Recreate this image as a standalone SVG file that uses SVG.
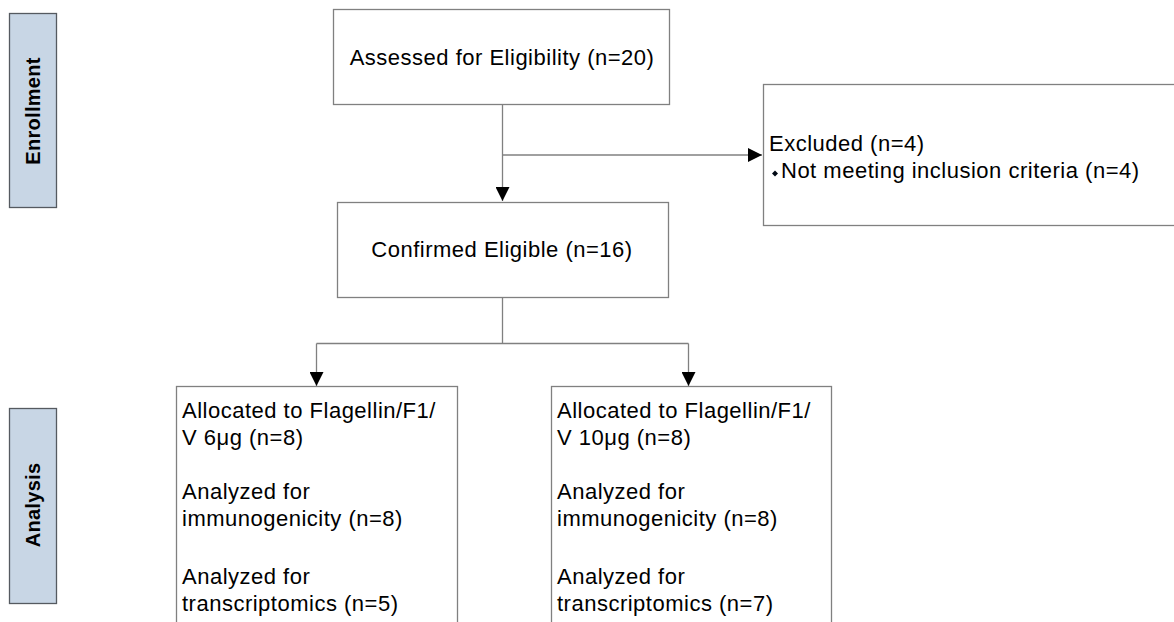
<svg xmlns="http://www.w3.org/2000/svg" width="1174" height="622" viewBox="0 0 1174 622">
  <style>
    .box { fill: #ffffff; stroke: #808080; stroke-width: 1.3; }
    .band { fill: #c8d6e5; stroke: #555a60; stroke-width: 1.3; }
    .lbl { font-family: "Liberation Sans", Arial, sans-serif; font-size: 22px; letter-spacing: 0.5px; fill: #000000; }
    .mid { text-anchor: middle; }
    .band-lbl { font-family: "Liberation Sans", Arial, sans-serif; font-size: 20px; font-weight: bold; letter-spacing: 0.3px; fill: #000000; text-anchor: middle; }
    .wire { fill: none; stroke: #808080; stroke-width: 1.3; }
  </style>
  <defs>
    <marker id="arrow" viewBox="0 0 14 14" refX="14" refY="7" markerWidth="14" markerHeight="14" markerUnits="userSpaceOnUse" orient="auto">
      <path d="M0,0 L14,7 L0,14 Z" fill="#000000"/>
    </marker>
  </defs>
  <rect width="1174" height="622" fill="#ffffff"/>

  <!-- stage bands -->
  <g id="band-enrollment">
    <rect class="band" x="9.5" y="13.5" width="47" height="194"/>
    <text class="band-lbl" transform="translate(40,111) rotate(-90)">Enrollment</text>
  </g>
  <g id="band-analysis">
    <rect class="band" x="9.5" y="408.5" width="47" height="195"/>
    <text class="band-lbl" transform="translate(40,505) rotate(-90)">Analysis</text>
  </g>

  <!-- connectors -->
  <g id="connectors">
    <line class="wire" x1="502.5" y1="104" x2="502.5" y2="201" marker-end="url(#arrow)"/>
    <line class="wire" x1="502.5" y1="155" x2="762" y2="155" marker-end="url(#arrow)"/>
    <polyline class="wire" points="502.5,297 502.5,343.5"/>
    <polyline class="wire" points="316.5,343.5 688.5,343.5"/>
    <line class="wire" x1="316.5" y1="343.5" x2="316.5" y2="386" marker-end="url(#arrow)"/>
    <line class="wire" x1="688.5" y1="343.5" x2="688.5" y2="386" marker-end="url(#arrow)"/>
  </g>

  <!-- nodes -->
  <g id="node-assessed">
    <rect class="box" x="333.5" y="9.5" width="336" height="95"/>
    <text class="lbl mid" x="502" y="65">Assessed for Eligibility (n=20)</text>
  </g>
  <g id="node-excluded">
    <rect class="box" x="763.5" y="84.5" width="420" height="141"/>
    <text class="lbl" x="769" y="151">Excluded (n=4)</text>
    <polygon points="772,173.5 775,170.5 778,173.5 775,176.5" fill="#000814"/>
    <text class="lbl" x="781" y="178">Not meeting inclusion criteria (n=4)</text>
  </g>
  <g id="node-confirmed">
    <rect class="box" x="337.5" y="202.5" width="331" height="95"/>
    <text class="lbl mid" x="502" y="257">Confirmed Eligible (n=16)</text>
  </g>
  <g id="node-arm-6">
    <rect class="box" x="176.5" y="386.5" width="281" height="250"/>
    <text class="lbl" x="182" y="418">Allocated to Flagellin/F1/</text>
    <text class="lbl" x="182" y="445">V 6μg (n=8)</text>
    <text class="lbl" x="182" y="499">Analyzed for</text>
    <text class="lbl" x="182" y="526">immunogenicity (n=8)</text>
    <text class="lbl" x="182" y="584">Analyzed for</text>
    <text class="lbl" x="182" y="611">transcriptomics (n=5)</text>
  </g>
  <g id="node-arm-10">
    <rect class="box" x="551.5" y="386.5" width="280" height="250"/>
    <text class="lbl" x="557" y="418">Allocated to Flagellin/F1/</text>
    <text class="lbl" x="557" y="445">V 10μg (n=8)</text>
    <text class="lbl" x="557" y="499">Analyzed for</text>
    <text class="lbl" x="557" y="526">immunogenicity (n=8)</text>
    <text class="lbl" x="557" y="584">Analyzed for</text>
    <text class="lbl" x="557" y="611">transcriptomics (n=7)</text>
  </g>
</svg>
